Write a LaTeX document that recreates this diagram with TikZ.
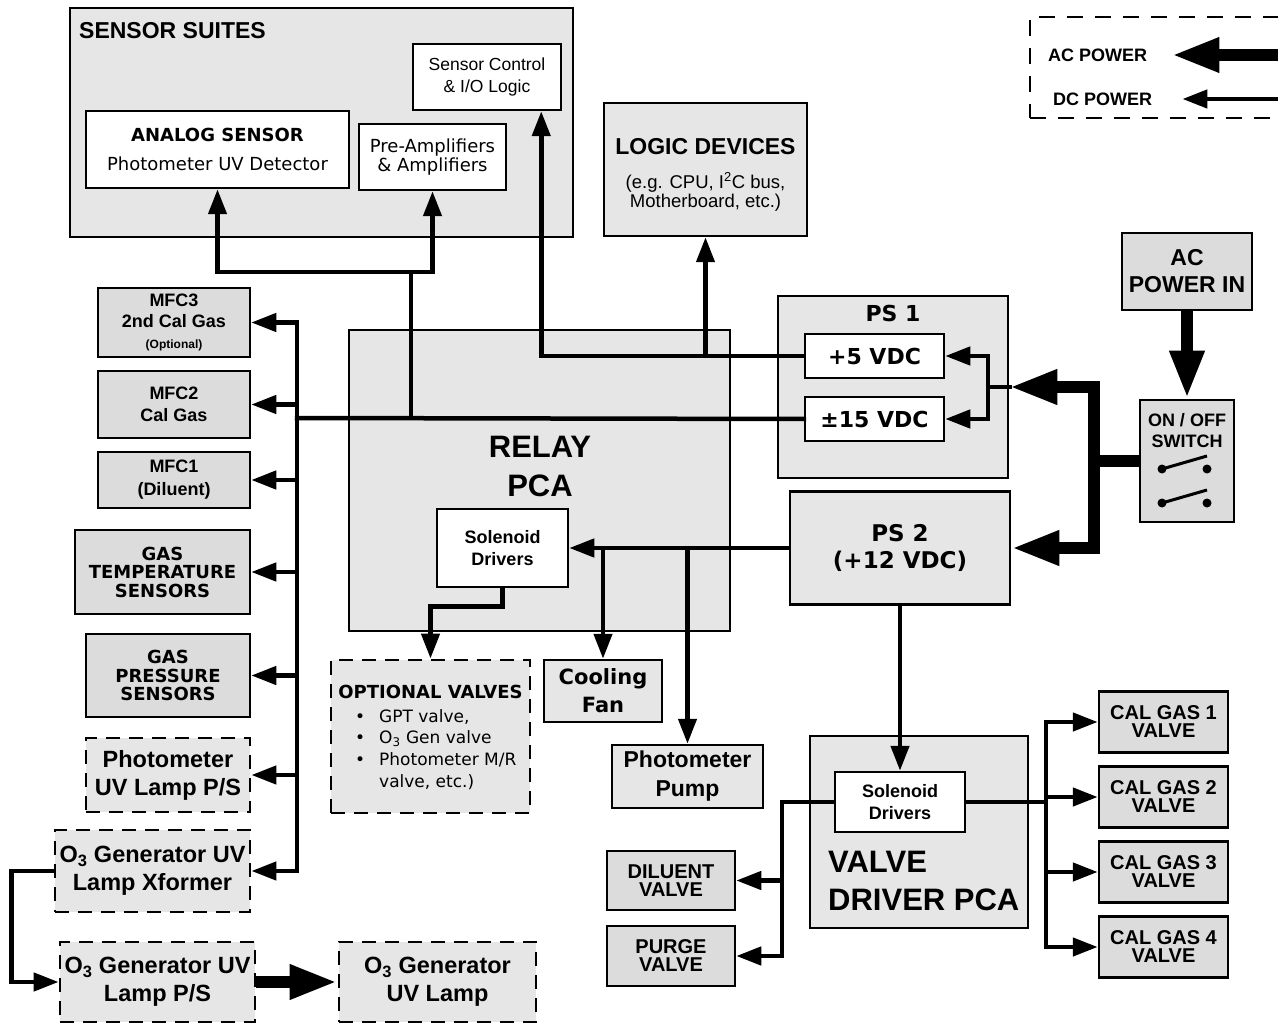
\documentclass[tikz,border=0pt]{standalone}
\usepackage{fontspec}
\setmainfont{Liberation Sans}
\newfontfamily\verd{DejaVu Sans}
\usepackage{tikz}
\usetikzlibrary{arrows.meta,calc}
\definecolor{boxlight}{RGB}{230,230,230}
\definecolor{boxmid}{RGB}{220,220,220}
\newcommand{\fsz}[2]{\fontsize{#1}{#2}\selectfont}

\begin{document}
\begin{tikzpicture}[x=1pt,y=-1pt,
    every node/.style={inner sep=0pt},
    pcb/.style={draw, line width=2.5pt, fill=boxlight, align=center},
    unit/.style={pcb, fill=boxmid},
    sub/.style={pcb, fill=white},
    opt/.style={pcb, line width=2.8pt, dash pattern=on 14pt off 9pt},
    dcline/.style={line width=4.5pt, line cap=rect},
    dc/.style={dcline, -{Triangle[length=25pt,width=18pt]}},
    acline/.style={line width=12pt},
    ac/.style={acline, -{Triangle[length=48pt,width=32pt]}}]
    \useasboundingbox (0,0) rectangle (1278,1024);
    \clip (0,0) rectangle (1278,1024);

    % Sensor suites
    \node[pcb, minimum width=503pt, minimum height=229pt] (suites) at (321.5,122.5) {};
    \node[anchor=west, font={\fsz{23}{23}\bfseries}] (suitestitle) at (79,31) {SENSOR SUITES};
    \node[sub, minimum width=148pt, minimum height=66pt, font={\fsz{17.5}{22}}] (sensctl) at (487,77) {Sensor Control\\\& I/O Logic};
    \node[sub, minimum width=263pt, minimum height=77pt, font={\fsz{18}{29}\verd}] (analog) at (217.5,149.5) {\textbf{ANALOG SENSOR}\\Photometer UV Detector};
    \node[sub, minimum width=147pt, minimum height=66pt, font={\fsz{18}{17}\verd}] (preamp) at (432.5,157) {Pre-Amplifiers\\\& Amplifiers};
    \node[pcb, minimum width=203pt, minimum height=133pt] (logic) at (705.5,169.5) {};
    \node[align=center, font={\fsz{18.5}{19.5}}] (logictext) at (705.5,175) {{\fsz{23}{23}\bfseries LOGIC DEVICES}\\[14pt](e.g. CPU, I\textsuperscript{2}C bus,\\Motherboard, etc.)};

    % Relay board
    \node[pcb, minimum width=381pt, minimum height=301pt] (relay) at (539.5,480.5) {};
    \node[align=center, font={\fsz{31}{39}\bfseries}] (relaytitle) at (540,466) {RELAY\\PCA};
    \node[sub, minimum width=131pt, minimum height=78pt, font={\fsz{18}{22}\bfseries}] (relaysol) at (502.5,548) {Solenoid\\Drivers};

    % Power supplies
    \node[pcb, minimum width=230pt, minimum height=182pt] (ps1) at (893,387) {};
    \node[font={\fsz{22}{22}\verd\bfseries}] (ps1title) at (893,313) {PS 1};
    \node[sub, minimum width=139pt, minimum height=44pt, font={\fsz{22}{22}\verd\bfseries}] (vdc5) at (874.5,356) {+5 VDC};
    \node[sub, minimum width=139pt, minimum height=44pt, font={\fsz{22}{22}\verd\bfseries}] (vdc15) at (874.5,419) {±15 VDC};
    \node[pcb, minimum width=220pt, minimum height=113pt, font={\fsz{23}{27}\verd\bfseries}] (ps2) at (900,548) {PS 2\\(+12 VDC)};
    \node[unit, minimum width=130pt, minimum height=77pt, font={\fsz{23}{27}\bfseries}] (acin) at (1187,271.5) {AC\\POWER IN};
    \node[unit, minimum width=94pt, minimum height=122pt] (switch) at (1187,461) {};
    \node[align=center, font={\fsz{18}{21}\bfseries}] (switchtitle) at (1187,431) {ON / OFF\\SWITCH};
    \foreach \y in {469,503} {
      \fill (1162,\y) circle (4.5pt);
      \fill (1207,\y) circle (4.5pt);
      \draw[line width=3pt] (1162,\y) -- (1207,\y-13);
    }

    % Left column
    \node[unit, minimum width=152pt, minimum height=69pt, font={\fsz{18}{21}\bfseries}] (mfc3) at (174,322.5) {MFC3\\2nd Cal Gas\\{\fsz{12}{12}(Optional)}};
    \node[unit, minimum width=152pt, minimum height=67pt, font={\fsz{18}{22}\bfseries}] (mfc2) at (174,404.5) {MFC2\\Cal Gas};
    \node[unit, minimum width=152pt, minimum height=56pt, font={\fsz{18}{23}\bfseries}] (mfc1) at (174,480) {MFC1\\(Diluent)};
    \node[unit, minimum width=175pt, minimum height=84pt, font={\fsz{18}{18.5}\verd\bfseries}] (gastemp) at (162.5,572) {GAS\\TEMPERATURE\\SENSORS};
    \node[unit, minimum width=164pt, minimum height=83pt, font={\fsz{18}{18.5}\verd\bfseries}] (gaspres) at (168,675.5) {GAS\\PRESSURE\\SENSORS};
    \node[opt, minimum width=164pt, minimum height=74pt, font={\fsz{23.5}{28}\bfseries}] (uvlamp) at (168,775) {Photometer\\UV Lamp P/S};
    \node[opt, minimum width=195pt, minimum height=82pt, font={\fsz{23.5}{28}\bfseries}] (xformer) at (152.5,871) {O\textsubscript{3} Generator UV\\Lamp Xformer};
    \node[opt, minimum width=195pt, minimum height=80pt, font={\fsz{23.5}{28}\bfseries}] (o3ps) at (157.5,982) {O\textsubscript{3} Generator UV\\Lamp P/S};
    \node[opt, minimum width=197pt, minimum height=80pt, font={\fsz{23.5}{28}\bfseries}] (o3lamp) at (437.5,982) {O\textsubscript{3} Generator\\UV Lamp};

    % Loads below the relay board
    \node[opt, minimum width=199pt, minimum height=153pt] (optval) at (430.5,736.5) {};
    \node[font={\fsz{18}{18}\verd\bfseries}] (optvaltitle) at (430.5,692) {OPTIONAL VALVES};
    \node[anchor=north west, align=left, font={\fsz{17}{21.7}\verd}] (optvallist) at (355,709)
      {\makebox[24pt][l]{•}GPT valve,\\\makebox[24pt][l]{•}O\textsubscript{3} Gen valve\\\makebox[24pt][l]{•}Photometer M/R\\\hspace*{24pt}valve, etc.)};
    \node[pcb, minimum width=118pt, minimum height=62pt, font={\fsz{21}{28}\verd\bfseries}] (fan) at (603,691) {Cooling\\Fan};
    \node[pcb, minimum width=151pt, minimum height=63pt, font={\fsz{23}{29}\bfseries}] (pump) at (687.5,776.5) {Photometer\\Pump};

    % Valve driver board
    \node[pcb, minimum width=218pt, minimum height=192pt] (vdrv) at (919,832) {};
    \node[sub, minimum width=130pt, minimum height=60pt, font={\fsz{18}{22}\bfseries}] (vsol) at (900,802) {Solenoid\\Drivers};
    \node[anchor=west, align=left, font={\fsz{31}{38}\bfseries}] (vdrvtitle) at (828,881) {VALVE\\DRIVER PCA};
    \node[unit, minimum width=128pt, minimum height=59pt, font={\fsz{20}{18}\bfseries}] (diluent) at (671,880.5) {DILUENT\\VALVE};
    \node[unit, minimum width=128pt, minimum height=60pt, font={\fsz{20}{18}\bfseries}] (purge) at (671,956) {PURGE\\VALVE};
    \foreach \n/\y in {1/722,2/797,3/872,4/947}
      \node[unit, minimum width=129pt, minimum height=61pt, font={\fsz{20}{18}\bfseries}] (cal\n) at (1163.5,\y) {CAL GAS \n\\VALVE};

    % Legend
    \node[draw, line width=1.5pt, dash pattern=on 16pt off 12pt, minimum width=270pt, minimum height=101pt] (legend) at (1165,67.5) {};
    \node[anchor=west, font={\fsz{18}{18}\bfseries}] (legac) at (1048,55) {AC POWER};
    \node[anchor=west, font={\fsz{18}{18}\bfseries}] (legdc) at (1053,99) {DC POWER};
    \coordinate (legacend) at (1290,55);
    \coordinate (legdcend) at (1290,99);
    \draw[ac] (legacend) -- ([xshift=24pt]legac.east);
    \draw[dc] (legdcend) -- ([xshift=30pt]legdc.east);

    % DC wiring
    \coordinate (sensjoin) at (411,272);
    \coordinate (lbus) at (297,418);
    \coordinate (ps1in) at (988,387);
    \coordinate (vleft) at (782,802);
    \coordinate (vright) at (1046,802);
    \draw[dc] (sensjoin) -| (analog.south);
    \draw[dc] (sensjoin) -| (preamp.south);
    \draw[dcline] (sensjoin) -- (sensjoin |- lbus);
    \draw[dcline] (lbus) -- (vdc15.west);
    \draw[dcline] (lbus |- mfc3.east) -- (lbus |- xformer.east);
    \foreach \n in {mfc3,mfc2,mfc1,gastemp,gaspres,uvlamp,xformer}
      \draw[dc] (lbus |- \n.east) -- (\n.east);
    \draw[dc] (vdc5.west) -| ([xshift=-21pt]sensctl.south east);
    \draw[dc] (vdc5.west -| logic.south) -- (logic.south);
    \draw[dcline] (ps1.east) -- (ps1in);
    \draw[dc] (ps1in) |- (vdc5.east);
    \draw[dc] (ps1in) |- (vdc15.east);
    \draw[dc] (ps2.west) -- (relaysol.east);
    \draw[dc] (relaysol.east -| fan.north) -- (fan.north);
    \draw[dc] (relaysol.east -| pump.north) -- (pump.north);
    \draw[dc] (relaysol.south) -- ++(0,18) -| (optval.north);
    \draw[dc] (ps2.south) -- (vsol.north);
    \draw[dc] (vsol.west) -- (vleft) |- (diluent.east);
    \draw[dc] (vleft) |- (purge.east);
    \draw[dcline] (vsol.east) -- (vright);
    \foreach \n in {1,...,4}
      \draw[dc] (vright) |- (cal\n.west);
    \draw[dc] (xformer.west) -- ++(-42,0) |- (o3ps.west);

    % AC wiring
    \coordinate (acjoin) at (1094,461);
    \draw[ac] (acin.south) -- (switch.north);
    \draw[ac] (switch.west) -- (acjoin) |- (ps1.east);
    \draw[ac] (acjoin) |- (ps2.east);
    \draw[ac] (o3ps.east) -- (o3lamp.west);
\end{tikzpicture}
\end{document}
